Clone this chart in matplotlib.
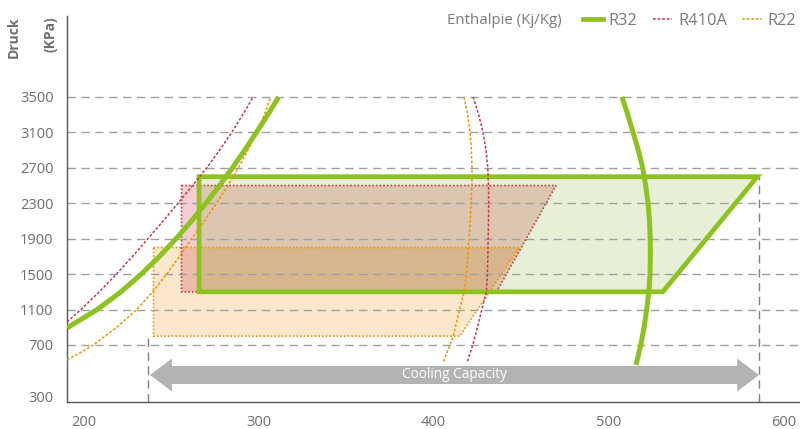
import matplotlib
matplotlib.use("Agg")
import matplotlib.pyplot as plt
import numpy as np
from matplotlib.lines import Line2D
from matplotlib.patches import Polygon
from matplotlib import transforms

plt.rcParams['font.family'] = ['Open Sans', 'DejaVu Sans']

# axes ticks
p_ticks = [300, 700, 1100, 1500, 1900, 2300, 2700, 3100, 3500]
h_ticks = [200, 300, 400, 500, 600]

# saturation curves (enthalpy kJ/kg, pressure kPa)
r32_liq_p = [893, 1100, 1300, 1500, 1700, 1900, 2100, 2300, 2500, 2700,
             2900, 3100, 3300, 3500]
r32_liq_h = [190.6, 207.8, 221.4, 233.0, 243.4, 252.9, 261.7, 269.9, 277.7,
             285.1, 292.1, 298.8, 305.3, 311.5]
r32_vap_p = [3500, 3300, 3100, 2900, 2700, 2500, 2300, 2100, 1900, 1700,
             1500, 1300, 1100, 900, 700, 546]
r32_vap_h = [507.7, 511.0, 514.0, 517.0, 519.5, 521.2, 522.6, 523.4, 523.8,
             523.9, 523.7, 523.0, 521.8, 520.3, 518.4, 515.7]

r410_liq_p = [960, 1100, 1300, 1500, 1700, 1900, 2100, 2300, 2500, 2700,
              2900, 3100, 3300, 3500]
r410_liq_h = [190.6, 198.5, 209.0, 218.8, 228.0, 236.8, 245.5, 254.0, 262.3,
              270.4, 277.8, 284.7, 291.0, 297.0]
r410_vap_p = [3500, 3300, 3100, 2900, 2700, 2500, 2300, 2100, 1900, 1700,
              1500, 1300, 1100, 900, 700, 562]
r410_vap_h = [422.6, 425.8, 428.3, 430.0, 431.0, 431.4, 431.5, 431.4, 431.2,
              431.0, 430.8, 430.2, 427.6, 425.1, 422.4, 419.1]

r22_liq_p = [585, 640, 700, 900, 1100, 1300, 1500, 1700, 1900, 2100, 2300,
             2500, 2700, 2900, 3100, 3300, 3500]
r22_liq_h = [190.6, 198.0, 205.6, 219.0, 230.4, 239.5, 247.5, 254.8, 261.8,
             269.0, 276.0, 282.5, 288.5, 294.0, 299.0, 303.3, 307.0]
r22_vap_p = [3500, 3300, 3100, 2900, 2700, 2500, 2300, 2100, 1900, 1700,
             1500, 1300, 1100, 900, 791, 700, 562]
r22_vap_h = [417.4, 419.5, 420.9, 421.6, 422.0, 421.9, 421.5, 421.0, 420.3,
             419.6, 418.8, 417.5, 414.9, 412.5, 411.1, 409.4, 405.4]

# operating envelopes
r32_env_h = [266, 585, 531, 266]
r32_env_p = [2600, 2600, 1300, 1300]
r410_env_h = [256, 470, 436, 256]
r410_env_p = [2500, 2500, 1300, 1300]
r22_env_h = [240, 449, 415, 240]
r22_env_p = [1800, 1800, 800, 800]

# cooling capacity range
cool_h = [237, 586]

GREEN = '#8dc21f'
RED = '#c8374a'
ORANGE = '#f39200'
GRID = '#a0a0a0'
TXT = '#6e6e6e'
LEG = '#7a7a7a'

K = 1.467  # bottom band (300-700) is drawn stretched


def fwd(p):
    p = np.asarray(p, dtype=float)
    return np.where(p >= 700, p, 700 - (700 - p) * K)


def inv(v):
    v = np.asarray(v, dtype=float)
    return np.where(v >= 700, v, 700 - (700 - v) / K)


fig = plt.figure(figsize=(8, 4.29), dpi=100)
ax = fig.add_axes([0.0834, 0.0629, 1 - 0.0834, 0.9627 - 0.0629])
ax.set_yscale('function', functions=(fwd, inv))
ax.set_xlim(190.4, 609.4)
ax.set_ylim(261, 4414)

# envelopes (fills approximate the multiply look)
ax.add_patch(Polygon(list(zip(r22_env_h, r22_env_p)), closed=True,
                     facecolor='#eb8c00', alpha=0.2, lw=0, zorder=1))
ax.add_patch(Polygon(list(zip(r410_env_h, r410_env_p)), closed=True,
                     facecolor='#bd001e', alpha=0.196, lw=0, zorder=1))
ax.add_patch(Polygon(list(zip(r32_env_h, r32_env_p)), closed=True,
                     facecolor='#6aa200', alpha=0.161, lw=0, zorder=1))

# grid
for p in p_ticks[1:]:
    ax.axhline(p, color=GRID, lw=1.0, ls=(0, (6, 4)), zorder=2)
ax.plot([cool_h[0]] * 2, [261, r22_env_p[-1]], color='#808080', lw=1.0,
        ls=(0, (6, 4)), zorder=2)
ax.plot([cool_h[1]] * 2, [261, r32_env_p[0]], color='#808080', lw=1.0,
        ls=(0, (6, 4)), zorder=2)

# envelope outlines
ax.add_patch(Polygon(list(zip(r22_env_h, r22_env_p)), closed=True, fill=False,
                     edgecolor=ORANGE, lw=1.2, ls=(0, (1, 1.2)), zorder=3))
ax.add_patch(Polygon(list(zip(r410_env_h, r410_env_p)), closed=True, fill=False,
                     edgecolor=RED, lw=1.2, ls=(0, (1, 1.2)), zorder=3))
ax.add_patch(Polygon(list(zip(r32_env_h, r32_env_p)), closed=True, fill=False,
                     edgecolor=GREEN, lw=3.4, joinstyle='miter', zorder=4))

# saturation curves
dots = (0, (1.8, 1.2))
ax.plot(r410_liq_h, r410_liq_p, color=RED, lw=1.1, ls=dots, zorder=4)
ax.plot(r410_vap_h, r410_vap_p, color=RED, lw=1.1, ls=dots, zorder=4)
ax.plot(r22_liq_h, r22_liq_p, color=ORANGE, lw=1.1, ls=dots, zorder=4)
ax.plot(r22_vap_h, r22_vap_p, color=ORANGE, lw=1.1, ls=dots, zorder=4)
ax.plot(r32_liq_h, r32_liq_p, color=GREEN, lw=3.6, zorder=5, solid_capstyle='butt')
ax.plot(r32_vap_h, r32_vap_p, color=GREEN, lw=3.6, zorder=5, solid_capstyle='butt')

# cooling capacity double arrow (x in data, y in axes fraction)
tr = transforms.blended_transform_factory(ax.transData, ax.transAxes)
yc, bh, hh, hl = 0.07, 0.0233, 0.0427, 12.5
x0, x1 = cool_h[0] + 1, cool_h[1]
arrow = [(x0, yc), (x0 + hl, yc + hh), (x0 + hl, yc + bh), (x1 - hl, yc + bh),
         (x1 - hl, yc + hh), (x1, yc), (x1 - hl, yc - hh), (x1 - hl, yc - bh),
         (x0 + hl, yc - bh), (x0 + hl, yc - hh)]
ax.add_patch(Polygon(arrow, closed=True, transform=tr, facecolor='#b3b3b3',
                     lw=0, zorder=6))
ax.text(412, yc, 'Cooling Capacity', transform=tr, color='white', fontsize=9.8,
        ha='center', va='center', zorder=7)

# axes styling
for s in ('top', 'right'):
    ax.spines[s].set_visible(False)
for s in ('left', 'bottom'):
    ax.spines[s].set_color('#555555')
    ax.spines[s].set_linewidth(1.0)
ax.set_yticks(p_ticks)
ax.set_yticklabels([str(p) for p in p_ticks])
ax.set_xticks(h_ticks)
ax.set_xticklabels([str(h) for h in h_ticks])
ax.tick_params(length=0, labelsize=10.5, labelcolor=TXT)
ax.tick_params(axis='y', pad=9.5)
ax.tick_params(axis='x', pad=9)
ax.minorticks_off()

# y label (two rotated words)
fig.text(13.5 / 800, 1 - 16 / 429, 'Druck', rotation=90, ha='center', va='top',
         fontsize=10, fontweight='bold', color=TXT)
fig.text(50.5 / 800, 1 - 16 / 429, '(KPa)', rotation=90, ha='center', va='top',
         fontsize=10, fontweight='bold', color=TXT)

# legend row
fig.text(562 / 800, 1 - 21 / 429, 'Enthalpie (Kj/Kg)', ha='right', va='center',
         fontsize=10.8, color=LEG)
handles = [Line2D([], [], color=GREEN, lw=3.4),
           Line2D([], [], color=RED, lw=1.1, ls=dots),
           Line2D([], [], color=ORANGE, lw=1.1, ls=dots)]
leg = fig.legend(handles, ['R32', 'R410A', 'R22'], loc='center right',
                 bbox_to_anchor=(803 / 800, 1 - 21 / 429), ncol=3, frameon=False,
                 fontsize=11.8, handlelength=1.2, handletextpad=0.35,
                 columnspacing=0.95, borderaxespad=0)
for t in leg.get_texts():
    t.set_color(LEG)

fig.savefig('out.png', dpi=100)
